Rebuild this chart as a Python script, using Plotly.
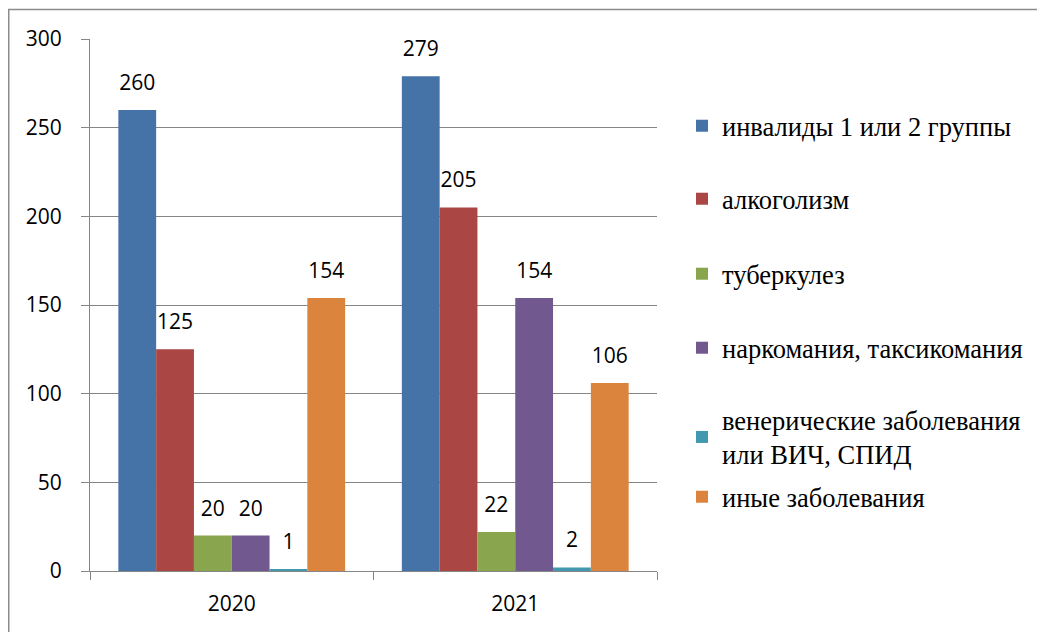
import plotly.graph_objects as go

categories = ["2020", "2021"]
series_names = [
    "инвалиды 1 или 2 группы",
    "алкоголизм",
    "туберкулез",
    "наркомания, таксикомания",
    "венерические заболевания<br>или ВИЧ, СПИД",
    "иные заболевания",
]
invalids = [260, 279]
alcohol = [125, 205]
tuberculosis = [20, 22]
narcomania = [20, 154]
venereal = [1, 2]
other = [154, 106]
series_values = [invalids, alcohol, tuberculosis, narcomania, venereal, other]
colors = ["#4572A7", "#AA4643", "#89A54E", "#71588F", "#4198AF", "#DB843D"]
y_ticks = [0, 50, 100, 150, 200, 250, 300]

# page body has an 8px margin; work in reference pixel coords and shift
OFF = 8
W, H = 1045 - OFF, 632 - OFF
ml, mt = 90 - OFF, 39 - OFF
mr = W - (657 - OFF)
mb = H - (571 - OFF)
pw, ph = W - ml - mr, H - mt - mb

def px_to_paper_x(px):
    return (px - OFF - ml) / pw

def px_to_paper_y(py):
    return (H - mb - (py - OFF)) / ph

SERIF = "Liberation Serif"
label_font = dict(family="Open Sans", size=21, color="#000000")
legend_font = dict(family=SERIF, size=26.5, color="#000000")
legend_centers = [126, 199, 274, 348, 437, 497]
legend_ids = ["legend", "legend2", "legend3", "legend4", "legend5", "legend6"]

fig = go.Figure()
for name, vals, col, lid in zip(series_names, series_values, colors, legend_ids):
    fig.add_trace(go.Bar(
        x=categories, y=vals, name=name,
        marker=dict(color=col, line=dict(width=0)),
        legend=lid,
        hoverinfo="x+y+name",
    ))
for name, vals in zip(series_names, series_values):
    fig.add_trace(go.Scatter(
        x=categories, y=vals, mode="markers+text",
        text=[str(v) for v in vals], textposition="top center",
        textfont=label_font,
        marker=dict(size=22, opacity=0),
        showlegend=False, cliponaxis=False, hoverinfo="skip",
    ))

layout_legends = {}
for lid, cy in zip(legend_ids, legend_centers):
    layout_legends[lid] = dict(
        x=px_to_paper_x(682), xanchor="left",
        y=px_to_paper_y(cy), yanchor="middle",
        font=legend_font, bgcolor="rgba(0,0,0,0)",
        borderwidth=0, itemclick=False, itemdoubleclick=False,
    )

grid_col = "#868686"
fig.update_layout(
    width=W, height=H,
    font=dict(family=SERIF, size=26.5, color="#000000"),
    margin=dict(l=ml, r=mr, t=mt, b=mb, autoexpand=False),
    paper_bgcolor="white", plot_bgcolor="white",
    barmode="group", bargap=0.2, bargroupgap=0,
    scattermode="group", scattergap=0.2,
    showlegend=True,
    **layout_legends,
    xaxis=dict(
        type="category", tickson="boundaries",
        ticks="outside", ticklen=8, tickcolor=grid_col, tickwidth=1,
        showline=True, linecolor=grid_col, linewidth=1,
        showgrid=False, tickfont=label_font, ticklabelstandoff=14,
    ),
    yaxis=dict(
        range=[0, 300], tickvals=y_ticks,
        ticks="outside", ticklen=8, tickcolor=grid_col, tickwidth=1,
        showline=True, linecolor=grid_col, linewidth=1,
        showgrid=True, gridcolor=grid_col, gridwidth=1,
        zeroline=False, tickfont=label_font, ticklabelstandoff=15,
    ),
    shapes=[
        dict(type="line", xref="paper", yref="paper",
             x0=px_to_paper_x(8), x1=px_to_paper_x(1045),
             y0=px_to_paper_y(9.5), y1=px_to_paper_y(9.5),
             line=dict(color="#8c8c8c", width=1.5)),
        dict(type="line", xref="paper", yref="paper",
             x0=px_to_paper_x(8.75), x1=px_to_paper_x(8.75),
             y0=px_to_paper_y(9), y1=px_to_paper_y(632),
             line=dict(color="#8c8c8c", width=1.5)),
    ],
)

fig.write_html("out.html")
